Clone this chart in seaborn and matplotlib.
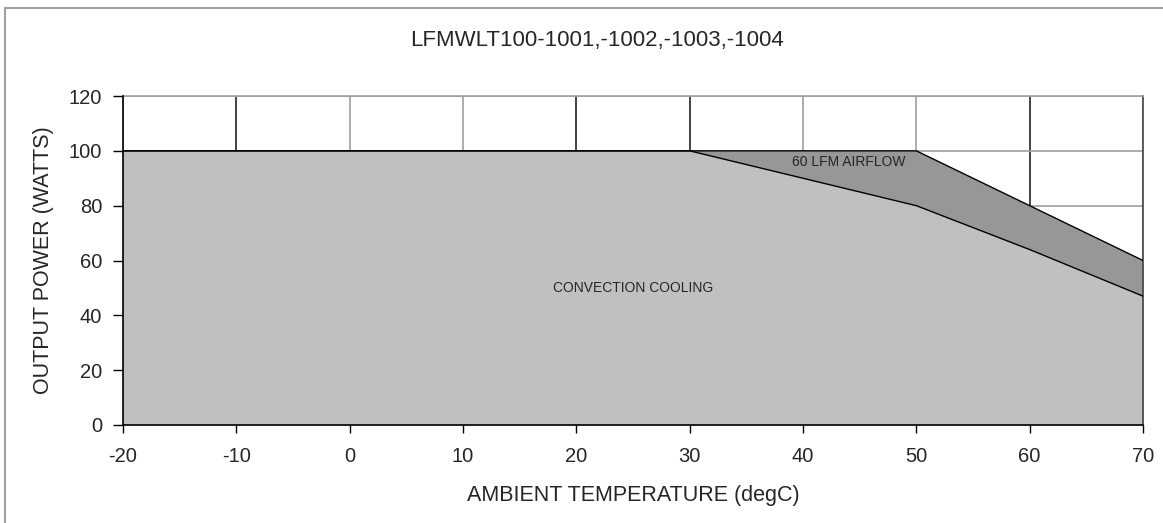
import pandas as pd
import seaborn as sns
import matplotlib.pyplot as plt

# Data
temps = [-20, -10, 0, 10, 20, 30, 40, 50, 60, 70]
convection = [100, 100, 100, 100, 100, 100, 90, 80, 64, 47]
airflow_60lfm = [100, 100, 100, 100, 100, 100, 100, 100, 80, 60]
x_ticks = [-20, -10, 0, 10, 20, 30, 40, 50, 60, 70]
y_ticks = [0, 20, 40, 60, 80, 100, 120]

df = pd.DataFrame({"Temp": temps, "Convection": convection, "Airflow": airflow_60lfm})

sns.set_style("white")
plt.rcParams['font.family'] = ['Liberation Sans', 'DejaVu Sans']

fig = plt.figure(figsize=(11.63, 5.23), dpi=100)
ax = fig.add_axes([0.1058, 0.1874, 0.877, 0.629])

# grid behind the filled areas
ax.set_axisbelow(True)
for t in x_ticks:
    c = '#222222' if t in (-10, 20, 30, 60) else '#a0a0a0'
    ax.axvline(t, color=c, lw=1.2, zorder=0)
for t in y_ticks:
    ax.axhline(t, color='#a0a0a0', lw=1.2, zorder=0)

# filled areas
ax.fill_between(df["Temp"], df["Convection"], df["Airflow"], color='#979797', zorder=2, lw=0)
ax.fill_between(df["Temp"], 0, df["Convection"], color='#c0c0c0', zorder=2, lw=0)

# boundary lines
sns.lineplot(data=df, x="Temp", y="Airflow", color='black', lw=1, ax=ax, zorder=3)
sns.lineplot(data=df, x="Temp", y="Convection", color='black', lw=1, ax=ax, zorder=3)

ax.text(25, 50, "CONVECTION COOLING", fontsize=10, ha='center', va='center', zorder=4)
ax.text(44, 96, "60 LFM AIRFLOW", fontsize=10, ha='center', va='center', zorder=4)

ax.set_xlim(-20, 70)
ax.set_ylim(0, 120)
ax.set_xticks(x_ticks)
ax.set_yticks(y_ticks)
ax.set_xticklabels([str(t) for t in x_ticks], fontsize=14.5)
ax.set_yticklabels([str(t) for t in y_ticks], fontsize=14.5)
ax.tick_params(axis='x', direction='out', length=6, width=1, color='black', bottom=True, pad=9.5)
ax.tick_params(axis='y', direction='out', length=7, width=1, color='black', left=True, pad=8)

for side in ['left', 'bottom']:
    ax.spines[side].set_color('black')
    ax.spines[side].set_linewidth(1.2)
    ax.spines[side].set_zorder(5)
for side in ['top', 'right']:
    ax.spines[side].set_color('#a0a0a0')
    ax.spines[side].set_linewidth(1.2)
ax.spines['right'].set_color('#444444')

ax.set_xlabel("AMBIENT TEMPERATURE (degC)", fontsize=15.5, va='center')
ax.set_ylabel("OUTPUT POWER (WATTS)", fontsize=15.5, va='center')
ax.xaxis.set_label_coords(0.5, -0.213)
ax.yaxis.set_label_coords(-0.0775, 0.5)

fig.text(0.513, 0.923, "LFMWLT100-1001,-1002,-1003,-1004", fontsize=16, ha='center', va='center')

# outer frame of the chart
frame = plt.Rectangle((0.004, -0.01), 1.1, 0.995, transform=fig.transFigure,
                      fill=False, edgecolor='#a0a0a0', lw=1.5)
fig.patches.append(frame)

fig.savefig("out.png", dpi=100)
